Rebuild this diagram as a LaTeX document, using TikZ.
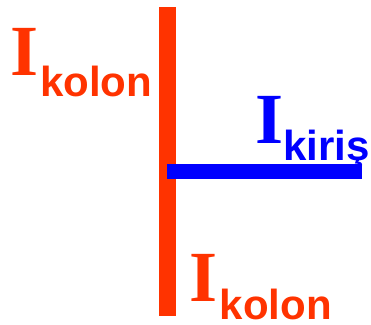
\documentclass[tikz,border=0pt]{standalone}
\usepackage{fontspec}
\newfontfamily\capfont{Liberation Serif}
\newfontfamily\subfont{Liberation Sans}
\definecolor{kolonred}{HTML}{FF3300}
\definecolor{kirisblue}{HTML}{0000FF}
\begin{document}
\begin{tikzpicture}[x=1pt,y=1pt,
  bigI/.style={inner sep=0pt,anchor=base west,font=\capfont\bfseries\fontsize{72}{72}\selectfont},
  subtxt/.style={inner sep=0pt,anchor=base west,text depth=0pt,font=\subfont\bfseries\fontsize{42}{42}\selectfont}]
\useasboundingbox (0,0) rectangle (371,324);
% column bar
\fill[kolonred] (159.3,8) rectangle (175.7,316.7);
% beam bar
\fill[kirisblue] (167.3,144.7) rectangle (362,160);
% upper column label
\node[bigI,text=kolonred] (Iup) at (10.6,248) {I};
\node[subtxt,text=kolonred] (kup) at (40,227.3) {kolon};
% beam label
\node[bigI,text=kirisblue] (Ibeam) at (255.3,180.7) {I};
\node[subtxt,text=kirisblue] (kbeam) at (283,164) {kiriş};
% lower column label
\node[bigI,text=kolonred] (Ilow) at (189.3,22.3) {I};
\node[subtxt,text=kolonred] (klow) at (219.7,4.7) {kolon};
\end{tikzpicture}
\end{document}
